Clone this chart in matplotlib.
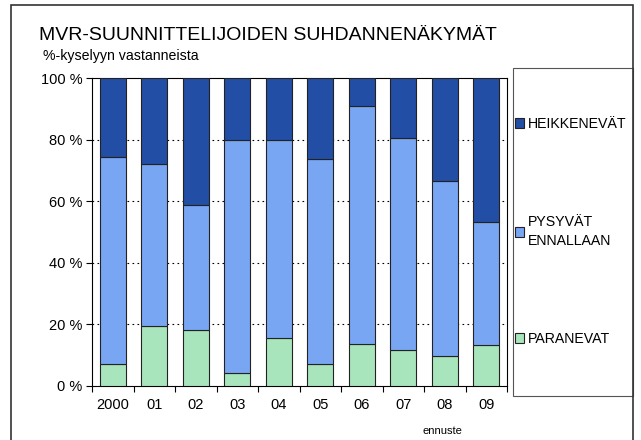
import matplotlib
matplotlib.use("Agg")
import matplotlib.pyplot as plt
from matplotlib.patches import Rectangle

plt.rcParams['font.family'] = ['Liberation Sans', 'DejaVu Sans']

years = ["2000", "01", "02", "03", "04", "05", "06", "07", "08", "09"]
paranevat = [7.0, 19.4, 18.0, 4.0, 15.6, 7.2, 13.7, 11.5, 9.6, 13.4]
pysyvat = [67.5, 52.7, 40.9, 75.8, 64.2, 66.6, 77.2, 69.2, 57.1, 39.9]
heikkenevat = [25.5, 27.9, 41.1, 20.2, 20.2, 26.2, 9.1, 19.3, 33.3, 46.7]
series_names = ["PARANEVAT", "PYSYVÄT\nENNALLAAN", "HEIKKENEVÄT"]
colors = ["#a9e5bc", "#79a6f3", "#234ea5"]

fig = plt.figure(figsize=(6.41, 4.40), dpi=100)
ax = fig.add_axes([92 / 641, 1 - 385.7 / 440, (507 - 92) / 641, (385.7 - 78.3) / 440])

x = range(len(years))
bottoms = [0] * len(years)
bars = []
for vals, name, col in zip([paranevat, pysyvat, heikkenevat], series_names, colors):
    b = ax.bar(x, vals, width=0.62, bottom=bottoms, color=col,
               edgecolor="#222222", linewidth=0.8, label=name, zorder=3)
    bars.append(b)
    bottoms = [a + v for a, v in zip(bottoms, vals)]

ax.set_xlim(-0.5, len(years) - 0.5)
ax.set_ylim(0, 100)
ax.set_yticks([0, 20, 40, 60, 80, 100])
ax.set_yticklabels([f"{v} %" for v in [0, 20, 40, 60, 80, 100]], fontsize=10.5)
ax.set_xticks(list(x))
ax.set_xticklabels(years, fontsize=10.5)
ax.set_xticks([i - 0.5 for i in range(len(years) + 1)], minor=True)
ax.tick_params(axis='x', which='major', length=0, pad=9)
ax.tick_params(axis='x', which='minor', length=4, direction='out', width=0.8)
ax.tick_params(axis='y', length=4, direction='out', width=0.8, pad=3)
for g in [20, 40, 60, 80]:
    ax.axhline(g, color="black", linestyle=(0, (1.5, 3)), linewidth=0.8, zorder=1)
for s in ax.spines.values():
    s.set_linewidth(0.8)
    s.set_color("black")

# legend box
fig.patches.append(Rectangle((513 / 641, 1 - 396 / 440), (633 - 513) / 641, (396 - 68) / 440,
                             transform=fig.transFigure, fill=False, edgecolor="#555555",
                             linewidth=0.8))
# outer frame
fig.patches.append(Rectangle((11 / 641, -0.05), (633 - 11) / 641, 1.05 - 5 / 440,
                             transform=fig.transFigure, fill=False, edgecolor="#333333",
                             linewidth=1.2))

handles = bars[::-1]
labels = series_names[::-1]
leg = fig.legend(handles, labels, loc="upper left", bbox_to_anchor=(515 / 641, 1 - 117 / 440),
                 frameon=False, fontsize=10.2, labelspacing=5.95, handlelength=0.62,
                 handleheight=0.62, handletextpad=0.3, borderaxespad=0, borderpad=0)
for t in leg.get_texts():
    t.set_linespacing(1.4)

fig.text(39 / 641, 1 - 35 / 440, "MVR-SUUNNITTELIJOIDEN SUHDANNENÄKYMÄT",
         fontsize=14, va="center", ha="left")
fig.text(43 / 641, 1 - 56 / 440, "%-kyselyyn vastanneista", fontsize=10.2,
         va="center", ha="left")
fig.text(442 / 641, 1 - 431 / 440, "ennuste", fontsize=8, va="center", ha="center")

fig.savefig("out.png", dpi=100)
